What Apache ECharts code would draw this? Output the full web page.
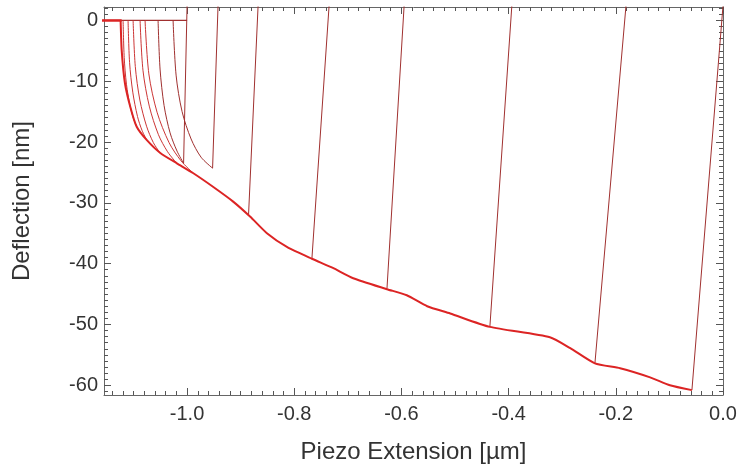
<!DOCTYPE html>
<html><head><meta charset="utf-8">
<script src="https://cdn.jsdelivr.net/npm/echarts@6/dist/echarts.min.js"></script>
<style>html,body{margin:0;padding:0;background:#fff}#c{width:742px;height:470px}</style>
</head><body><div id="c"></div>
<script>
// ---- data ----
const xTickLabels = [-1.0, -0.8, -0.6, -0.4, -0.2, 0.0];
const yTickLabels = [0, -10, -20, -30, -40, -50, -60];

// lower envelope shared by all retract curves [piezo µm, deflection nm]
const envelope = [
  [-1.124, 0], [-1.122, -4.9], [-1.116, -10.3], [-1.106, -14.2], [-1.094, -17.5],
  [-1.075, -19.7], [-1.050, -21.8], [-1.019, -23.5], [-0.989, -25.1], [-0.951, -27.4],
  [-0.914, -29.8], [-0.882, -32.3], [-0.851, -35.0], [-0.813, -37.3], [-0.767, -39.2],
  [-0.728, -40.7], [-0.690, -42.4], [-0.627, -44.2], [-0.590, -45.2], [-0.552, -47.0],
  [-0.509, -48.2], [-0.435, -50.4], [-0.323, -52.1], [-0.285, -53.9], [-0.239, -56.4],
  [-0.192, -57.2], [-0.136, -58.7], [-0.099, -60.0], [-0.058, -60.8]
];

// curves leaving the envelope toward zero deflection (left fan)
const fan1 = [[-1.1194, 0], [-1.1173, -6.1], [-1.1131, -10.5], [-1.1065, -14.0], [-1.1002, -16.1], [-1.0938, -17.5]];
const fan2 = [[-1.1101, 0], [-1.1073, -6.9], [-1.1013, -11.8], [-1.0925, -15.8], [-1.0840, -18.1], [-1.0752, -19.7]];
const fan3 = [[-1.1007, 0], [-1.0966, -7.6], [-1.0881, -13.1], [-1.0756, -17.4], [-1.0629, -20.1], [-1.0504, -21.8]];
const fan4 = [[-1.0877, 0], [-1.0823, -8.2], [-1.0705, -14.1], [-1.0534, -18.8], [-1.0364, -21.6], [-1.0192, -23.5]];
const fan5 = [[-1.0784, 0], [-1.0713, -8.8], [-1.0560, -15.1], [-1.0336, -20.1], [-1.0112, -23.1], [-0.9888, -25.1]];
const fan6 = [[-1.0541, 0], [-1.0504, -8.0], [-1.0429, -14.0], [-1.0317, -18.5], [-1.0187, -21.5], [-1.0065, -23.5]];
const fan7 = [[-1.0261, 0], [-1.0205, -9.0], [-1.0093, -15.0], [-0.9925, -19.5], [-0.9739, -22.5], [-0.9524, -24.3]];

// snap-off jumps: [top point, bottom point]
const jump1 = [[0.0, 2.4], [-0.058, -60.8]];
const jump2 = [[-0.181, 2.4], [-0.239, -56.4]];
const jump3 = [[-0.394, 2.4], [-0.435, -50.4]];
const jump4 = [[-0.595, 2.4], [-0.627, -44.1]];
const jump5 = [[-0.735, 2.4], [-0.767, -39.1]];
const jump6 = [[-0.8675, 2.4], [-0.8853, -32.0]];
const jump7 = [[-0.9422, 2.4], [-0.9524, -24.3]];
const jump8 = [[-1.0, 2.4], [-1.0065, -23.5]];

// flat zero-deflection segments
const baselineThin = [[-1.16, 0], [-1.0, 0]];
const baselineThick = [[-1.16, 0], [-1.122, 0]];

// ---- chart ----
const X_MIN = -1.155, X_MAX = 0.0, Y_MIN = -61.6, Y_MAX = 2.2;
const minorX = [];
for (let i = -57; i <= 0; i++) minorX.push(i / 50);
const minorY = [];
for (let i = -61; i <= 2; i++) minorY.push(i);

const FONT = 'Liberation Sans';
const AX = '#666666';
const TICK = '#555555';

function xAx(pos, ticks, len, labels, line) {
  return {
    type: 'value', min: X_MIN, max: X_MAX, position: pos,
    axisLine: { show: line, onZero: false, lineStyle: { color: AX, width: 1 } },
    axisTick: { show: true, inside: true, length: len, customValues: ticks, lineStyle: { color: TICK, width: 1 } },
    axisLabel: labels ? { customValues: xTickLabels, formatter: v => v.toFixed(1), fontFamily: FONT, fontSize: 20, color: '#333', margin: 9 } : { show: false },
    splitLine: { show: false }
  };
}
function yAx(pos, ticks, len, labels, line) {
  return {
    type: 'value', min: Y_MIN, max: Y_MAX, position: pos,
    axisLine: { show: line, onZero: false, lineStyle: { color: AX, width: 1 } },
    axisTick: { show: true, inside: true, length: len, customValues: ticks, lineStyle: { color: TICK, width: 1 } },
    axisLabel: labels ? { customValues: yTickLabels, formatter: v => String(v), fontFamily: FONT, fontSize: 20, color: '#333', margin: 6 } : { show: false },
    splitLine: { show: false }
  };
}

const xAxes = [
  Object.assign(xAx('bottom', xTickLabels, 7, true, true), {
    name: 'Piezo Extension [µm]', nameLocation: 'middle', nameGap: 45,
    nameTextStyle: { fontFamily: FONT, fontSize: 24, color: '#333' }
  }),
  xAx('bottom', minorX, 4, false, false),
  xAx('top', xTickLabels, 7, false, true),
  xAx('top', minorX, 4, false, false)
];
const yAxes = [
  Object.assign(yAx('left', yTickLabels, 7, true, true), {
    name: 'Deflection [nm]', nameLocation: 'middle', nameGap: 70, nameRotate: 90,
    nameTextStyle: { fontFamily: FONT, fontSize: 24, color: '#333' }
  }),
  yAx('left', minorY, 4, false, false),
  yAx('right', yTickLabels, 7, false, true),
  yAx('right', minorY, 4, false, false)
];

function line(data, color, width, smooth) {
  return { type: 'line', data: data, showSymbol: false, symbol: 'none', smooth: smooth || false,
    lineStyle: { color: color, width: width }, silent: true, animation: false, z: 3 };
}
const DARK = '#a0302f', RED = '#dc2424', MID = '#cc3535';
const series = [
  line(baselineThin, DARK, 1.2),
  line(baselineThick, RED, 2.5),
  line(fan1, MID, 1, 0.3), line(fan2, MID, 1, 0.3), line(fan3, MID, 1, 0.3), line(fan4, MID, 1, 0.3),
  line(fan5, MID, 1, 0.3), line(fan6, DARK, 1, 0.3), line(fan7, DARK, 1, 0.3),
  line(jump1, DARK, 1), line(jump2, DARK, 1), line(jump3, DARK, 1), line(jump4, DARK, 1),
  line(jump5, DARK, 1), line(jump6, DARK, 1), line(jump7, DARK, 1), line(jump8, DARK, 1),
  line(envelope, RED, 2, 0.2)
];

const chart = echarts.init(document.getElementById('c'), null, { renderer: 'canvas' });
chart.setOption({
  animation: false,
  backgroundColor: '#ffffff',
  grid: { left: 104, right: 19, top: 7, bottom: 75 },
  xAxis: xAxes,
  yAxis: yAxes,
  series: series
});
</script>
</body></html>
